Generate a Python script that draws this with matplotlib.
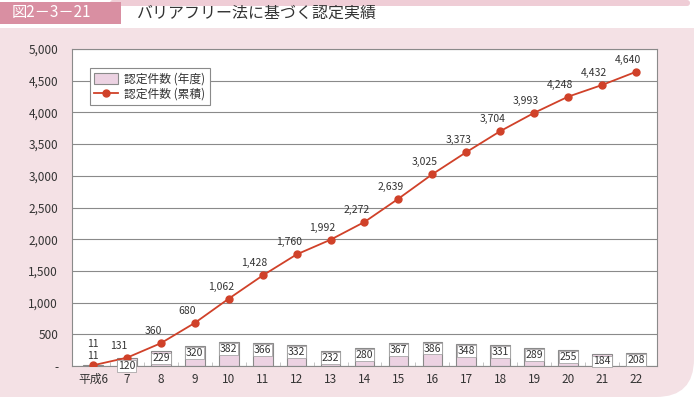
import matplotlib
matplotlib.use("Agg")
import matplotlib.pyplot as plt
from matplotlib.patches import FancyBboxPatch, Rectangle
from matplotlib.ticker import FuncFormatter, FixedLocator
import numpy as np

plt.rcParams['font.family'] = ['Noto Sans CJK JP', 'DejaVu Sans']

# data
years = ["平成6", "7", "8", "9", "10", "11", "12", "13", "14", "15",
         "16", "17", "18", "19", "20", "21", "22"]
annual = [11, 120, 229, 320, 382, 366, 332, 232, 280, 367,
          386, 348, 331, 289, 255, 184, 208]
cumulative = [11, 131, 360, 680, 1062, 1428, 1760, 1992, 2272, 2639,
              3025, 3373, 3704, 3993, 4248, 4432, 4640]
legend_labels = ["認定件数 (年度)", "認定件数 (累積)"]

bg_pink = "#f4e1e5"
bar_pink = "#ecd2e2"
line_red = "#d04129"
grey = "#8a8a8a"
txt = "#333333"

W, H = 694, 400
fig = plt.figure(figsize=(W / 100, H / 100), dpi=100)

# background panel drawn in pixel coords
bg = fig.add_axes([0, 0, 1, 1], zorder=-1)
bg.set_xlim(0, W)
bg.set_ylim(H, 0)
bg.axis("off")
bg.add_patch(FancyBboxPatch((-60, -400), W + 60, 797,
                            boxstyle="round,pad=0,rounding_size=38",
                            fc=bg_pink, ec="none"))
bg.add_patch(Rectangle((0, -5), W, 33, fc="white", ec="none"))
# thin band along the top
bg.add_patch(FancyBboxPatch((110, 0), 580, 6,
                            boxstyle="round,pad=0,rounding_size=3",
                            fc="#efcdd6", ec="none"))
# title box
bg.add_patch(Rectangle((0, 2), 121, 22, fc="#d98fa2", ec="none"))
bg.text(12, 13, "図2－3－21", color="white", fontsize=11, va="center", ha="left")
bg.text(137, 13, "バリアフリー法に基づく認定実績", color=txt,
        fontsize=11.5, va="center", ha="left")

ax = fig.add_axes([72 / W, 34 / H, 585 / W, 317 / H])
ax.set_facecolor("white")
x = np.arange(len(years))

bar_h = ax.bar(x, annual, width=0.58, color=bar_pink, edgecolor=grey,
               linewidth=0.8, zorder=2)
line_h, = ax.plot(x, cumulative, color=line_red, marker="o", markersize=5,
                  linewidth=1.3, zorder=4)

# bar value labels
box = dict(fc="white", ec="#999999", lw=0.5, pad=0.6)
for i, v in enumerate(annual):
    if i == 0:
        ax.annotate(str(v), (x[i], v), xytext=(0, 21), textcoords="offset pixels",
                    ha="center", va="center", fontsize=7.5, color=txt, zorder=5)
    elif i == 1:
        ax.annotate(str(v), (x[i], 0), xytext=(0, 0), textcoords="offset pixels",
                    ha="center", va="center", fontsize=7.5, color=txt, zorder=5,
                    bbox=box)
    else:
        ax.annotate(str(v), (x[i], v), xytext=(0, -7), textcoords="offset pixels",
                    ha="center", va="center", fontsize=7.5, color=txt, zorder=5,
                    bbox=box)

# line value labels
for i, v in enumerate(cumulative):
    off = (0, 9) if i == 0 else (-8, 12)
    ax.annotate(f"{v:,}", (x[i], v), xytext=off, textcoords="offset pixels",
                ha="center", va="center", fontsize=7.5, color=txt, zorder=5)

ax.set_xlim(-0.62, len(years) - 0.38)
ax.set_ylim(0, 5000)
ax.set_yticks(np.arange(0, 5001, 500))
ax.yaxis.set_major_formatter(FuncFormatter(lambda v, p: "-" if v == 0 else f"{int(v):,}"))
ax.set_xticks(x)
ax.set_xticklabels(years)
ax.xaxis.set_minor_locator(FixedLocator(x[:-1] + 0.5))
ax.tick_params(axis="x", which="major", length=0, labelsize=8.5, pad=5, colors=txt)
ax.tick_params(axis="x", which="minor", length=3, direction="in", color="#bbbbbb")
ax.tick_params(axis="y", length=0, labelsize=8.5, pad=10, colors=txt)
ax.grid(axis="y", color=grey, linewidth=0.8, zorder=0)
ax.set_axisbelow(True)
for s in ax.spines.values():
    s.set_color(grey)
    s.set_linewidth(0.8)

leg = ax.legend([bar_h, line_h], legend_labels,
                loc="upper left", bbox_to_anchor=(0.02, 0.96), fontsize=8.5,
                frameon=True, fancybox=False, edgecolor=grey, borderpad=0.4,
                handlelength=2.0, handleheight=1.0, labelspacing=0.2,
                handletextpad=0.5, framealpha=1)
leg.get_frame().set_linewidth(0.8)
for t in leg.get_texts():
    t.set_color(txt)

fig.savefig("out.png", dpi=100)
